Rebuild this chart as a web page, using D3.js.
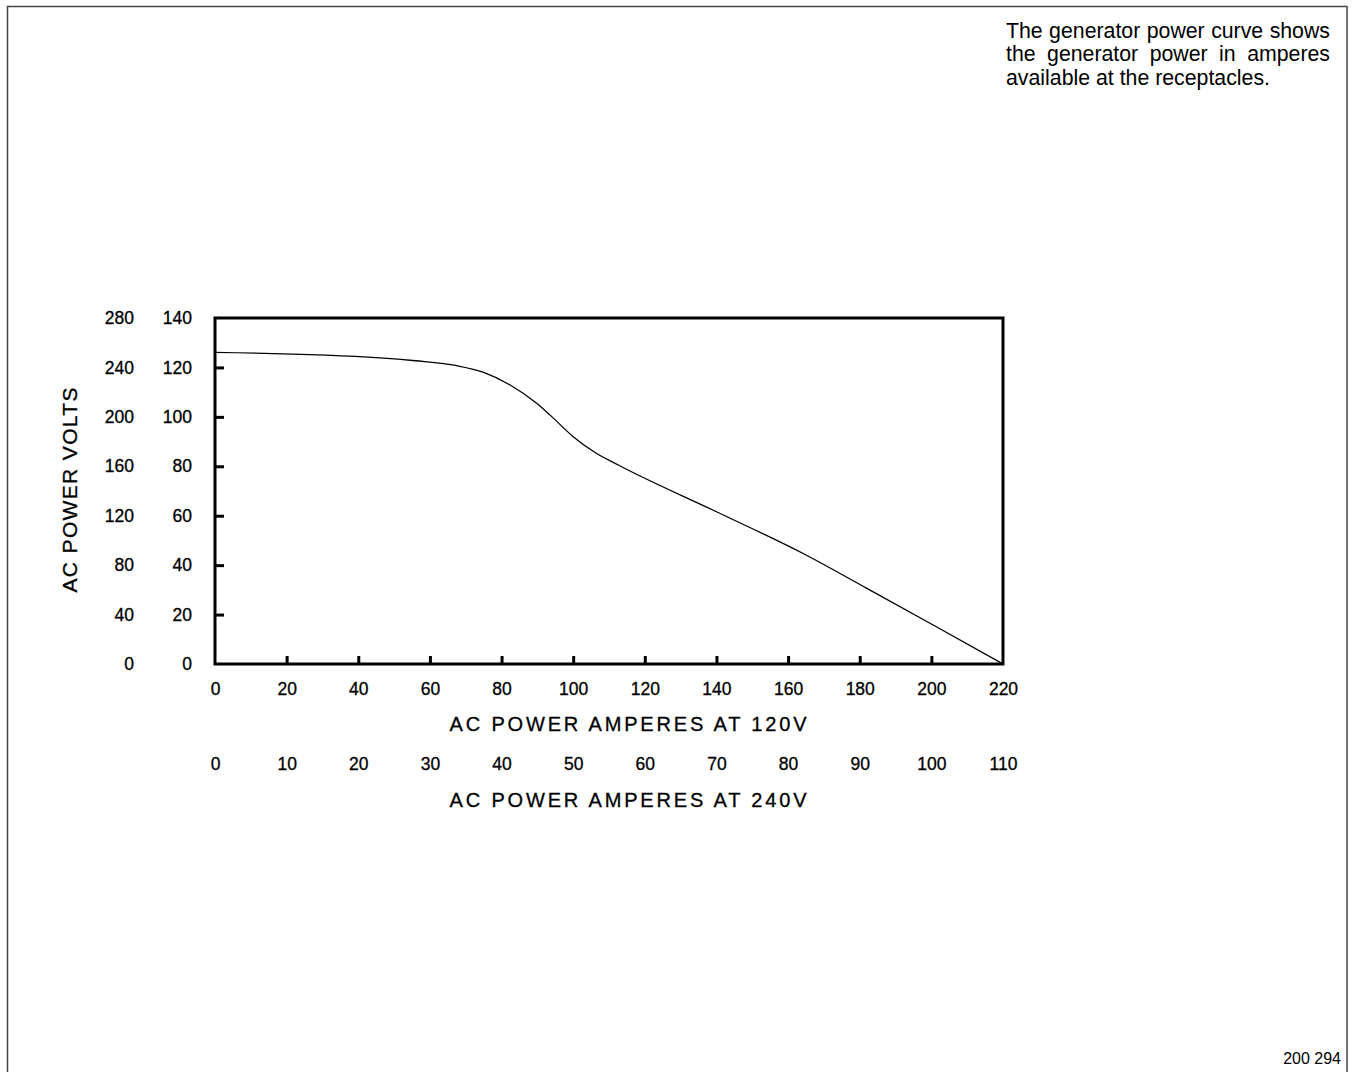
<!DOCTYPE html>
<html>
<head>
<meta charset="utf-8">
<script src="https://cdn.jsdelivr.net/npm/d3@7"></script>
<style>
  html, body { margin: 0; padding: 0; background: #fff; }
  svg { display: block; }
  text { font-family: "Liberation Sans", Arial, Helvetica, sans-serif; fill: #000; }
</style>
</head>
<body>
<script>
// ---- data ----
const ampsAt120 = [0, 46, 56, 67.5, 75, 82.4, 89.8, 93.5, 100, 106, 112.6, 140, 165, 182, 200.5, 220];
const voltsAt120 = [126.1, 123.9, 122.7, 120.7, 118, 112.9, 105.5, 100.8, 92, 85.7, 80.5, 61.6, 44.1, 30.6, 15.8, 0];

const xTicks120 = [0, 20, 40, 60, 80, 100, 120, 140, 160, 180, 200, 220];
const xTicks240 = [0, 10, 20, 30, 40, 50, 60, 70, 80, 90, 100, 110];
const yTicks120 = [0, 20, 40, 60, 80, 100, 120, 140];
const yTicks240 = [0, 40, 80, 120, 160, 200, 240, 280];

const xTitle120 = "AC POWER AMPERES AT 120V";
const xTitle240 = "AC POWER AMPERES AT 240V";
const yTitle = "AC POWER VOLTS";
const noteLines = ["The generator power curve shows", "the generator power in amperes", "available at the receptacles."];
const figId = "200 294";

// ---- layout ----
const W = 1353, H = 1072;
const plot = { left: 215, right: 1003, top: 318, bottom: 664 };

const svg = d3.select("body").append("svg").attr("width", W).attr("height", H);
svg.append("rect").attr("width", W).attr("height", H).attr("fill", "#fff");

// page frame
svg.append("path")
  .attr("d", `M7.5,${H + 10} V6.5 H1347 V${H + 10}`)
  .attr("fill", "none").attr("stroke", "#444").attr("stroke-width", 1.5);

const x = d3.scaleLinear().domain([0, 220]).range([plot.left, plot.right]);
const x2 = d3.scaleLinear().domain([0, 110]).range([plot.left, plot.right]);
const y = d3.scaleLinear().domain([0, 140]).range([plot.bottom, plot.top]);
const y2 = d3.scaleLinear().domain([0, 280]).range([plot.bottom, plot.top]);

const TICK_FS = 17.5;
function styleAxis(g) {
  g.select(".domain").remove();
  g.selectAll(".tick line").attr("stroke", "#000").attr("stroke-width", 3);
  g.selectAll(".tick text").attr("font-size", TICK_FS).attr("fill", "#000")
    .attr("stroke", "#000").attr("stroke-width", 0.3)
    .attr("font-family", '"Liberation Sans", Arial, sans-serif');
}

// bottom axis (120V) with inward ticks
svg.append("g").attr("transform", `translate(0,${plot.bottom})`)
  .call(d3.axisBottom(x).tickValues(xTicks120).tickSize(-8).tickPadding(18.5).tickFormat(d3.format("d")))
  .call(styleAxis)
  .call(g => g.selectAll(".tick").filter(d => d === 0 || d === 220).select("line").remove());

// second row (240V)
svg.append("g").attr("transform", `translate(0,${plot.bottom})`)
  .call(d3.axisBottom(x2).tickValues(xTicks240).tickSize(0).tickPadding(93.5).tickFormat(d3.format("d")))
  .call(styleAxis)
  .call(g => g.selectAll(".tick line").remove());

// left axis (120 scale) with inward ticks
svg.append("g").attr("transform", `translate(${plot.left},0)`)
  .call(d3.axisLeft(y).tickValues(yTicks120).tickSize(-9).tickPadding(23).tickFormat(d3.format("d")))
  .call(styleAxis)
  .call(g => g.selectAll(".tick").filter(d => d === 0 || d === 140).select("line").remove());

// left axis labels (240 scale)
svg.append("g").attr("transform", `translate(${plot.left},0)`)
  .call(d3.axisLeft(y2).tickValues(yTicks240).tickSize(0).tickPadding(81).tickFormat(d3.format("d")))
  .call(styleAxis)
  .call(g => g.selectAll(".tick line").remove());

// plot frame
svg.append("rect")
  .attr("x", x(0)).attr("y", y(140))
  .attr("width", x(220) - x(0)).attr("height", y(0) - y(140))
  .attr("fill", "none").attr("stroke", "#000").attr("stroke-width", 3);

// curve
const line = d3.line().x((d, i) => x(ampsAt120[i])).y((d, i) => y(voltsAt120[i])).curve(d3.curveMonotoneX);
svg.append("path")
  .datum(ampsAt120)
  .attr("d", line)
  .attr("fill", "none").attr("stroke", "#000").attr("stroke-width", 1.3)
  .attr("stroke-linejoin", "round");

// axis titles
const xMid = (plot.left + plot.right) / 2 + 19;
[[xTitle120, 730.5], [xTitle240, 806.5]].forEach(([t, yy]) => {
  svg.append("text").attr("x", xMid).attr("y", yy)
    .attr("text-anchor", "middle").attr("font-size", 20)
    .attr("stroke", "#000").attr("stroke-width", 0.3)
    .attr("textLength", 357).attr("lengthAdjust", "spacing")
    .text(t);
});
svg.append("text")
  .attr("transform", `translate(76.5,${490}) rotate(-90)`)
  .attr("text-anchor", "middle").attr("font-size", 21)
  .attr("stroke", "#000").attr("stroke-width", 0.3)
  .attr("textLength", 205).attr("lengthAdjust", "spacing")
  .text(yTitle);

// note (top right), justified by word spacing
const noteX = 1006, noteW = 324;
const baselines = [37.5, 61, 84.5];
noteLines.forEach((t, i) => {
  const el = svg.append("text").attr("x", noteX).attr("y", baselines[i])
    .attr("font-size", 21.3).text(t);
  if (i < noteLines.length - 1) {
    const len = el.node().getComputedTextLength();
    const gaps = (t.match(/ /g) || []).length;
    const ws = (noteW - len) / gaps;
    if (ws > 0) el.attr("word-spacing", ws);
    else el.attr("textLength", noteW).attr("lengthAdjust", "spacingAndGlyphs");
  }
});

// figure id
svg.append("text").attr("x", 1341).attr("y", 1064)
  .attr("text-anchor", "end").attr("font-size", 16).text(figId);
</script>
</body>
</html>
